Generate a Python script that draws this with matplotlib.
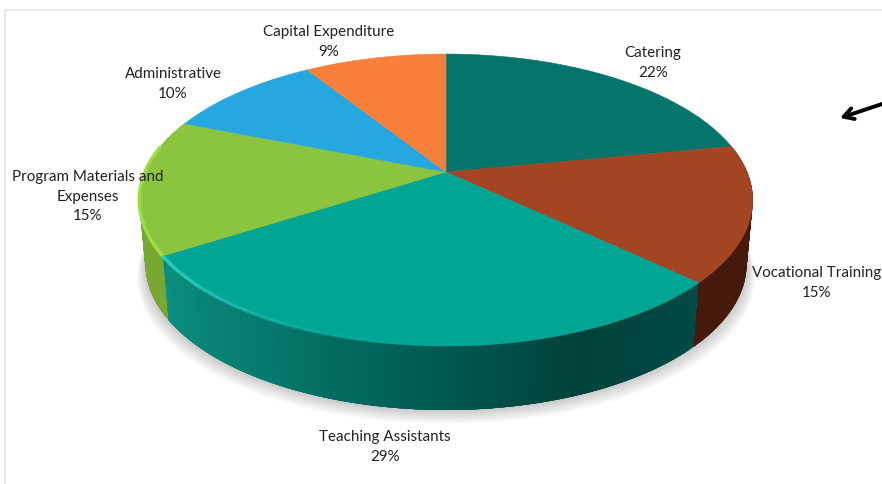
import numpy as np
import matplotlib
matplotlib.use("Agg")
import matplotlib.pyplot as plt
from matplotlib.patches import Polygon
from matplotlib.colors import LinearSegmentedColormap, to_rgb

# data, clockwise from 12 o'clock
labels = ["Catering", "Vocational Training", "Teaching Assistants",
          "Program Materials and\nExpenses", "Administrative", "Capital Expenditure"]
shares = [22, 15, 29, 15, 10, 9]
top_colors = ["#05756b", "#a34522", "#00a594", "#8bc43f", "#27a7e0", "#f9803a"]
label_x = [653, 817, 385, 88, 173, 329]
label_y = [63, 283, 447, 197, 84, 42]

# fake 3d: perspective of a disc, all in pixels
cx, cy = 446, 173
A, B, k = 301, 140.6, 0.192
depth = 64
shrink = 0.98

plt.rcParams['font.family'] = ['Lato', 'DejaVu Sans']


def rim(theta):
    # theta in degrees, clockwise from the back of the disc
    t = np.radians(theta)
    u, v = np.sin(t), np.cos(t)
    w = 1 + k * v
    return cx + A * u / w, cy - B * v / w


def under(x, y):
    return cx + (x - cx) * shrink, y + depth


fig = plt.figure(figsize=(8.82, 4.85), dpi=100)
ax = fig.add_axes([0, 0, 1, 1])
ax.set_xlim(0, 882)
ax.set_ylim(485, 0)
ax.axis("off")

# screenshot frame
ax.plot([5, 5, 882], [485, 11, 11], color="#e8e8e8", lw=1.6, zorder=1)

# soft shadow
th = np.linspace(0, 360, 361)
rx, ry = rim(th)
bx, by = under(rx, ry)
for i in range(14):
    grow = 1 + 0.0022 * i
    ax.add_patch(Polygon(np.c_[cx + (bx - cx) * grow, by + 1.1 * i], closed=True,
                         fc="black", ec="none", alpha=0.016, zorder=2))

edges = np.cumsum([0] + shares) * 3.6

# side colours along each slice, start of slice -> end of slice
side_maps = {
    1: ["#45190b", "#45190b"],
    2: ["#004a44", "#00423c", "#005e55", "#067a6e", "#0b8f80"],
    3: ["#79a832", "#79a832"],
}
for i, stops in side_maps.items():
    cmap = LinearSegmentedColormap.from_list("side", stops)
    a0, a1 = edges[i], edges[i + 1]
    steps = np.linspace(a0, a1, 160)
    for n, (s0, s1) in enumerate(zip(steps[:-1], steps[1:])):
        # each strip runs on under the next one, no seams that way
        s2 = min(s1 + 3 * (s1 - s0), a1)
        t = np.array([s0, s1, s2])
        x, y = rim(t)
        xb, yb = under(x, y)
        col = cmap(n / 158)
        ax.add_patch(Polygon(np.r_[np.c_[x, y], np.c_[xb, yb][::-1]], closed=True,
                             fc=col, ec="none", zorder=3))

# top face
for i, col in enumerate(top_colors):
    t = np.linspace(edges[i], edges[i + 1], 120)
    x, y = rim(t)
    ax.add_patch(Polygon(np.r_[[[cx, cy]], np.c_[x, y]], closed=True, fc=col, ec=col,
                         lw=0.4, zorder=4))

# bevel highlights on the rim
hl = np.linspace(edges[3], edges[3] + 0.8 * (edges[4] - edges[3]), 60)
ax.plot(*rim(hl), color="#9ddc44", lw=2.5, zorder=5, solid_capstyle="butt")
a0, a1 = edges[3], edges[2] + 0.5 * (edges[3] - edges[2])
steps = np.linspace(a0, a1, 40)
light = np.array(to_rgb("#2bd0c0"))
for n, (s0, s1) in enumerate(zip(steps[:-1], steps[1:])):
    ax.plot(*rim(np.array([s0, s1])), color=light, lw=2.5,
            alpha=(1 - n / 39) ** 1.3, zorder=5, solid_capstyle="butt")

# data labels
for name, val, x, y in zip(labels, shares, label_x, label_y):
    ax.text(x, y, f"{name}\n{val}%", ha="center", va="center", fontsize=10.9,
            color="#222222", linespacing=1.5, zorder=6)

# hand drawn arrow at the right
ax.annotate("", xy=(840, 119), xytext=(882, 105), zorder=7,
            arrowprops=dict(arrowstyle="->,head_length=0.7,head_width=0.4", lw=2.8,
                            color="black", shrinkA=0, shrinkB=0))

fig.savefig("out.png", dpi=100)
